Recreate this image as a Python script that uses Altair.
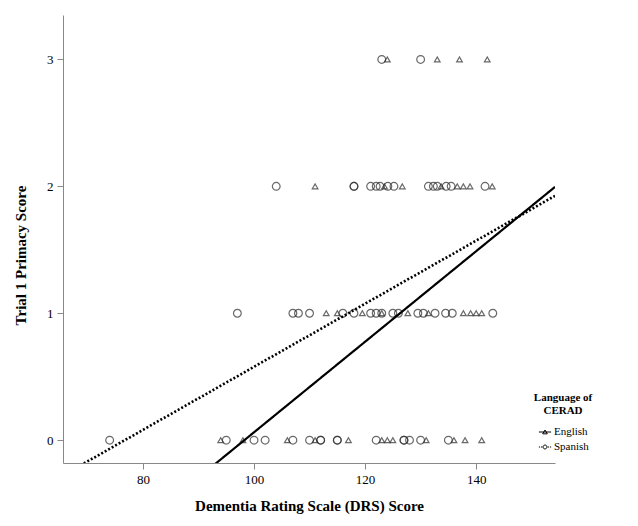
import altair as alt
import pandas as pd

# English (triangles)
eng_x = [124, 133, 137, 142,
         111, 123.5, 126.7, 133.7, 136.6, 137.7, 138.9, 142.9,
         113, 115, 119.5, 123, 127.7, 131.4, 137.7, 139, 140, 141,
         94, 98, 106, 111, 117, 123, 124, 125, 131, 136, 138, 141]
eng_y = [3, 3, 3, 3,
         2, 2, 2, 2, 2, 2, 2, 2,
         1, 1, 1, 1, 1, 1, 1, 1, 1, 1,
         0, 0, 0, 0, 0, 0, 0, 0, 0, 0, 0, 0]
# Spanish (circles)
spa_x = [123, 130,
         104, 118, 118, 121, 122, 122.7, 124.1, 125.2, 131.4, 132.3, 133, 134.6, 135.5, 141.6,
         97, 107, 108, 110, 116, 118, 121, 122, 123, 125, 126, 129.5, 130.5, 132.6, 134.5, 135.7, 143,
         74, 95, 100, 102, 107, 110, 112, 112, 115, 115, 122, 127, 127, 128, 130, 135]
spa_y = [3, 3,
         2, 2, 2, 2, 2, 2, 2, 2, 2, 2, 2, 2, 2, 2,
         1, 1, 1, 1, 1, 1, 1, 1, 1, 1, 1, 1, 1, 1, 1, 1, 1,
         0, 0, 0, 0, 0, 0, 0, 0, 0, 0, 0, 0, 0, 0, 0, 0]

languages = ["English", "Spanish"]
# fit lines (intercept, slope)
fit_intercept = [-3.505, -1.907]
fit_slope = [0.03567, 0.02485]

x_ticks = [80, 100, 120, 140]
y_ticks = [0, 1, 2, 3]
x_domain = [65.6, 154.2]
y_domain = [-0.18, 3.35]

df = pd.DataFrame({
    "DRS": eng_x + spa_x,
    "Primacy": eng_y + spa_y,
    "Language": ["English"] * len(eng_x) + ["Spanish"] * len(spa_x),
})

fit_rows = []
for lang, b0, b1 in zip(languages, fit_intercept, fit_slope):
    for xv in x_domain:
        fit_rows.append({"Language": lang, "b0": b0, "b1": b1, "DRS": xv})
fit_df = pd.DataFrame(fit_rows)

FONT = "Liberation Serif"
xscale = alt.Scale(domain=x_domain, nice=False, zero=False)
yscale = alt.Scale(domain=y_domain, nice=False, zero=False)

x_enc = alt.X("DRS:Q", scale=xscale,
              axis=alt.Axis(title="Dementia Rating Scale (DRS) Score", values=x_ticks,
                            grid=False, tickSize=6, titlePadding=12))
y_enc = alt.Y("Primacy:Q", scale=yscale,
              axis=alt.Axis(title="Trial 1 Primacy Score", values=y_ticks, format="d",
                            grid=False, tickSize=6, titlePadding=18, titleY=240))

points = alt.Chart(df).mark_point(filled=False, strokeWidth=1.2, color="#2a2a2a").encode(
    x=x_enc, y=y_enc,
    shape=alt.Shape("Language:N", scale=alt.Scale(domain=languages, range=["triangle-up", "circle"]), legend=None),
    size=alt.Size("Language:N", scale=alt.Scale(domain=languages, range=[32, 60]), legend=None),
)

lines = alt.Chart(fit_df).transform_calculate(
    Primacy="datum.b0 + datum.b1 * datum.DRS"
).mark_line(color="black", clip=True).encode(
    x=alt.X("DRS:Q", scale=xscale),
    y=alt.Y("Primacy:Q", scale=yscale),
    strokeDash=alt.StrokeDash("Language:N", scale=alt.Scale(domain=languages, range=[[1, 0], [2, 2]]), legend=None),
    strokeWidth=alt.StrokeWidth("Language:N", scale=alt.Scale(domain=languages, range=[2.2, 2.6]), legend=None),
)

eng_sym = "M-1,0H1M-0.38,0.3L0,-0.32L0.38,0.3Z"
spa_sym = ("M-1,0H-0.8M-0.65,0H-0.45M0.45,0H0.65M0.8,0H1"
           "M0.32,0A0.32,0.32 0 1,1 -0.32,0A0.32,0.32 0 1,1 0.32,0Z")

legend_layer = alt.Chart(df).mark_point(opacity=0).encode(
    x=alt.X("DRS:Q", scale=xscale),
    y=alt.Y("Primacy:Q", scale=yscale),
    shape=alt.Shape("Language:N", scale=alt.Scale(domain=languages, range=[eng_sym, spa_sym]),
                    legend=alt.Legend(title=["Language of", "CERAD"], orient="none",
                                      legendX=471, legendY=377,
                                      titleFont=FONT, titleFontSize=11, titleFontWeight="bold",
                                      titleAlign="center", titleAnchor="middle", titleColor="black",
                                      titlePadding=9,
                                      labelFont=FONT, labelFontSize=11, labelColor="black",
                                      symbolOpacity=1, symbolStrokeColor="black", symbolFillColor="white",
                                      symbolStrokeWidth=1, symbolSize=150, rowPadding=3, labelOffset=2)),
)

chart = alt.layer(points, lines, legend_layer).resolve_scale(shape="independent").properties(
    width=492, height=448,
    autosize=alt.AutoSizeParams(type="none"),
    padding={"left": 55, "top": 7, "right": 75, "bottom": 60},
).configure_view(stroke=None).configure_axis(
    labelFont=FONT, labelFontSize=13, labelColor="black",
    titleFont=FONT, titleFontSize=15, titleFontWeight="bold", titleColor="black",
    domainColor="#888888", tickColor="#888888", labelPadding=4,
)

chart.save("out.html", embed_options={"renderer": "svg", "actions": False})
